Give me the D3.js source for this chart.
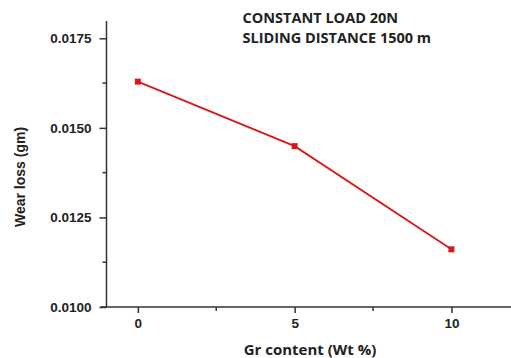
<!DOCTYPE html>
<html>
<head>
<meta charset="utf-8">
<script src="https://cdn.jsdelivr.net/npm/d3@7"></script>
<style>
  html, body { margin: 0; padding: 0; background: #fff; }
  svg { display: block; }
</style>
</head>
<body>
<svg id="chart" width="511" height="358"></svg>
<script>
// Wear loss vs graphite content
const grContent = [0, 5, 10];
const wearLoss = [0.01629, 0.01449, 0.01161];
const xTicks = [0, 5, 10];
const yTicks = [0.0100, 0.0125, 0.0150, 0.0175];
const notes = ["CONSTANT LOAD 20N", "SLIDING DISTANCE 1500 m"];

const svg = d3.select("#chart");
const plotLeft = 106.5, plotRight = 511, plotTop = 21, plotBottom = 307;

const x = d3.scaleLinear().domain([-1, 11.9]).range([plotLeft, plotRight]);
const y = d3.scaleLinear().domain([0.0100, 0.0175]).range([plotBottom, 38.3]);

const axisColor = "#333";
const boldFont = "'Liberation Sans', Arial, sans-serif";
const noteFont = "'Open Sans', sans-serif";

// y axis
const yAxis = svg.append("g").attr("transform", `translate(${plotLeft},0)`);
yAxis.append("line").attr("x1", 0).attr("x2", 0).attr("y1", plotTop).attr("y2", plotBottom)
  .attr("stroke", axisColor).attr("stroke-width", 1.5);
yAxis.call(g => {
  const ax = d3.axisLeft(y).tickValues(yTicks).tickFormat(d3.format(".4f")).tickSize(7).tickPadding(8);
  ax(g);
  g.select(".domain").remove();
  g.selectAll(".tick line").attr("stroke", axisColor).attr("stroke-width", 1.5);
  g.selectAll(".tick text").attr("font-family", boldFont).attr("font-weight", "bold")
    .attr("font-size", 13.5).attr("fill", "#222");
});
// minor y ticks
yAxis.selectAll(".minor").data(d3.range(0.01125, 0.0175, 0.0025)).enter().append("line")
  .attr("x1", -4).attr("x2", 0).attr("y1", d => y(d)).attr("y2", d => y(d))
  .attr("stroke", axisColor).attr("stroke-width", 1.5);

// x axis
const xAxis = svg.append("g").attr("transform", `translate(0,${plotBottom})`);
xAxis.append("line").attr("x1", plotLeft - 6).attr("x2", plotRight).attr("y1", 0).attr("y2", 0)
  .attr("stroke", axisColor).attr("stroke-width", 1.5);
xAxis.call(g => {
  const ax = d3.axisBottom(x).tickValues(xTicks).tickFormat(d3.format("d")).tickSize(6).tickPadding(5);
  ax(g);
  g.select(".domain").remove();
  g.selectAll(".tick line").attr("stroke", axisColor).attr("stroke-width", 1.5);
  g.selectAll(".tick text").attr("font-family", boldFont).attr("font-weight", "bold")
    .attr("font-size", 13.5).attr("fill", "#222");
});
xAxis.selectAll(".minor").data([2.5, 7.5]).enter().append("line")
  .attr("x1", d => x(d)).attr("x2", d => x(d)).attr("y1", 0).attr("y2", 4)
  .attr("stroke", axisColor).attr("stroke-width", 1.5);

// axis titles
svg.append("text").attr("x", 310).attr("y", 355).attr("text-anchor", "middle")
  .attr("font-family", noteFont).attr("font-weight", "bold")
  .attr("font-size", 15).attr("fill", "#222").text("Gr content (Wt %)");
svg.append("text").attr("transform", "translate(25,177) rotate(-90)").attr("text-anchor", "middle")
  .attr("font-family", boldFont).attr("font-weight", "bold")
  .attr("font-size", 14).attr("fill", "#222").text("Wear loss (gm)");

// annotation
svg.selectAll(".note").data(notes).enter().append("text")
  .attr("x", 242.5).attr("y", (d, i) => 22.7 + i * 20.5)
  .attr("font-family", noteFont).attr("font-weight", "bold")
  .attr("font-size", 14.5).attr("fill", "#222").text(d => d);

// line series
const pts = grContent.map((g, i) => [g, wearLoss[i]]);
const red = "#d7191c";
svg.append("path").datum(pts)
  .attr("d", d3.line().x(d => x(d[0])).y(d => y(d[1])))
  .attr("fill", "none").attr("stroke", red).attr("stroke-width", 1.8);
svg.selectAll(".pt").data(pts).enter().append("rect")
  .attr("x", d => x(d[0]) - 3).attr("y", d => y(d[1]) - 3)
  .attr("width", 6).attr("height", 6).attr("fill", red);
</script>
</body>
</html>
